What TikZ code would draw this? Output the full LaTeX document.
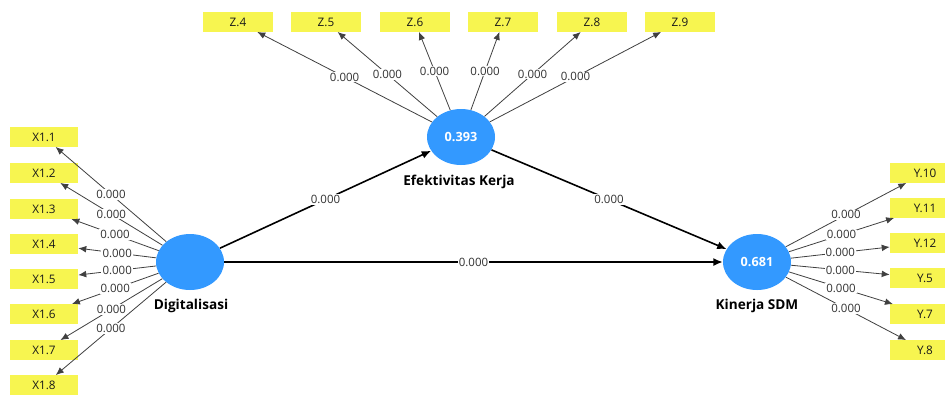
\documentclass[tikz,border=0pt]{standalone}
\usepackage{fontspec}
\setmainfont{Open Sans}
\usetikzlibrary{arrows.meta,shapes.geometric}
\definecolor{lvblue}{RGB}{51,153,255}
\definecolor{indyellow}{RGB}{247,245,80}
\begin{document}
\begin{tikzpicture}[x=0.75pt,y=-0.75pt,
  latent/.style={ellipse, fill=lvblue, minimum width=51pt, minimum height=42pt, inner sep=0pt,
    text=white, font=\bfseries\fontsize{9.5}{11}\selectfont},
  lvname/.style={font=\bfseries\fontsize{10.2}{12}\selectfont, text=black, inner sep=0pt},
  indbox/.style={fill=indyellow, minimum width=52.5pt, minimum height=14.5pt, inner sep=0pt,
    font=\fontsize{8.8}{10}\selectfont, text=black!90},
  xbox/.style={indbox, minimum width=51pt},
  ind/.style={draw=black!75, line width=0.6pt, -{Latex[length=6pt,width=5pt]}},
  wt/.style={fill=white, inner sep=0.8pt, font=\fontsize{8.6}{9}\selectfont, text=black!80},
  pathw/.style={draw=black, line width=1.2pt, -{Latex[length=7pt,width=6pt]}},
]
\fill[white] (0,0) rectangle (945,394);
\useasboundingbox (0,0) rectangle (945,394);

% latent variables
\node[latent] (D) at (190,262) {};
\node[latent] (E) at (461,137) {0.393};
\node[latent] (K) at (757,262) {0.681};
\node[lvname] (Dl) at (191,306) {Digitalisasi};
\node[lvname] (El) at (459,182) {Efektivitas Kerja};
\node[lvname] (Kl) at (757,306) {Kinerja SDM};

% X indicators
\node[xbox] (x1) at (44,137) {X1.1};
\node[xbox] (x2) at (44,173) {X1.2};
\node[xbox] (x3) at (44,209) {X1.3};
\node[xbox] (x4) at (44,244) {X1.4};
\node[xbox] (x5) at (44,279) {X1.5};
\node[xbox] (x6) at (44,314) {X1.6};
\node[xbox] (x7) at (44,350) {X1.7};
\node[xbox] (x8) at (44,385) {X1.8};

% Z indicators
\node[indbox] (z4) at (238,22) {Z.4};
\node[indbox] (z5) at (326,22) {Z.5};
\node[indbox] (z6) at (415,22) {Z.6};
\node[indbox] (z7) at (503,22) {Z.7};
\node[indbox] (z8) at (592,22) {Z.8};
\node[indbox] (z9) at (680,22) {Z.9};

% Y indicators
\node[indbox] (y10) at (925,173) {Y.10};
\node[indbox] (y11) at (925,208) {Y.11};
\node[indbox] (y12) at (925,243) {Y.12};
\node[indbox] (y5) at (925,278) {Y.5};
\node[indbox] (y7) at (925,314) {Y.7};
\node[indbox] (y8) at (925,350) {Y.8};

% outer loadings
\foreach \t in {x1,x2,x3,x4,x5,x6,x7,x8}
  \draw[ind] (D) -- node[wt]{0.000} (\t);
\foreach \t in {z4,z5,z6,z7,z8,z9}
  \draw[ind] (E) -- node[wt]{0.000} (\t);
\foreach \t in {y10,y11,y12,y5,y7,y8}
  \draw[ind] (K) -- node[wt]{0.000} (\t);

% structural paths
\draw[pathw] (D) -- node[wt]{0.000} (E);
\draw[pathw] (E) -- node[wt]{0.000} (K);
\draw[pathw] (D) -- node[wt]{0.000} (K);
\end{tikzpicture}
\end{document}
